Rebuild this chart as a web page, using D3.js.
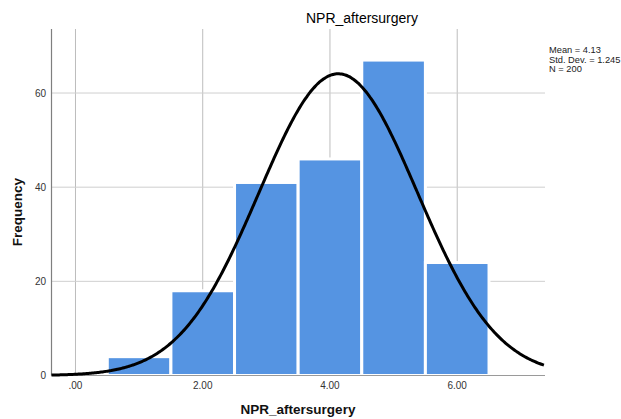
<!DOCTYPE html>
<html>
<head>
<meta charset="utf-8">
<script src="https://cdn.jsdelivr.net/npm/d3@7/dist/d3.min.js"></script>
<style>
  html, body { margin: 0; padding: 0; background: #fff; }
  svg { display: block; font-family: "Liberation Sans", Arial, sans-serif; }
</style>
</head>
<body>
<svg id="chart" width="621" height="419"></svg>
<script>
// Histogram bins (centre value, width 1) and frequencies
const binCentres = [1, 2, 3, 4, 5, 6];
const frequencies = [4, 18, 41, 46, 67, 24];
const xTicks = [0, 2, 4, 6];
const xTickLabels = [".00", "2.00", "4.00", "6.00"];
const yTicks = [0, 20, 40, 60];
const statLines = ["Mean = 4.13", "Std. Dev. = 1.245", "N = 200"];
const mean = 4.13, sd = 1.245, n = 200, binWidth = 1;

const svg = d3.select("#chart");
const plotLeft = 51.5, plotRight = 545, plotTop = 29, plotBottom = 375.5;

const x = d3.scaleLinear().domain([-0.377, 7.38]).range([plotLeft, plotRight]);
const y = d3.scaleLinear().domain([0, 73.6]).range([plotBottom, plotTop]);

// gridlines
svg.append("g").selectAll("line").data(xTicks).join("line")
  .attr("x1", d => x(d)).attr("x2", d => x(d))
  .attr("y1", plotTop).attr("y2", plotBottom)
  .attr("stroke", "#bdbdbd").attr("stroke-width", 1);
svg.append("g").selectAll("line").data(yTicks.filter(d => d > 0)).join("line")
  .attr("x1", plotLeft).attr("x2", plotRight)
  .attr("y1", d => y(d)).attr("y2", d => y(d))
  .attr("stroke", "#cfcfcf").attr("stroke-width", 1);

// bars
svg.append("g").selectAll("rect").data(binCentres).join("rect")
  .attr("x", d => x(d - binWidth / 2))
  .attr("width", x(binWidth) - x(0))
  .attr("y", (d, i) => y(frequencies[i]))
  .attr("height", (d, i) => y(0) - y(frequencies[i]))
  .attr("fill", "#5594e2")
  .attr("stroke", "#ffffff").attr("stroke-width", 3);

// axis lines
svg.append("line").attr("x1", plotLeft).attr("x2", plotLeft).attr("y1", plotTop).attr("y2", plotBottom)
  .attr("stroke", "#7f7f7f").attr("stroke-width", 1.2);
svg.append("line").attr("x1", plotLeft).attr("x2", plotRight).attr("y1", plotBottom).attr("y2", plotBottom)
  .attr("stroke", "#9a9a9a").attr("stroke-width", 1.2);

// normal curve scaled to the histogram counts
const pdf = v => Math.exp(-0.5 * ((v - mean) / sd) ** 2) / (sd * Math.sqrt(2 * Math.PI));
const curvePts = d3.range(-0.377, 7.381, 0.02).map(v => [v, n * binWidth * pdf(v)]);
svg.append("path")
  .attr("d", d3.line().x(d => x(d[0])).y(d => y(d[1])).curve(d3.curveBasis)(curvePts))
  .attr("fill", "none").attr("stroke", "#000").attr("stroke-width", 3);

// tick labels
svg.append("g").selectAll("text").data(xTicks).join("text")
  .attr("x", d => x(d)).attr("y", 388.5)
  .attr("text-anchor", "middle").attr("font-size", 10).attr("fill", "#333")
  .text((d, i) => xTickLabels[i]);
svg.append("g").selectAll("text").data(yTicks).join("text")
  .attr("x", 46).attr("y", d => y(d) + 3.5)
  .attr("text-anchor", "end").attr("font-size", 10).attr("fill", "#333")
  .text(d => d);

// titles
svg.append("text").attr("x", 362).attr("y", 23).attr("text-anchor", "middle")
  .attr("font-size", 14).attr("fill", "#000").text("NPR_aftersurgery");
svg.append("text").attr("x", 298).attr("y", 414).attr("text-anchor", "middle")
  .attr("font-size", 13.5).attr("font-weight", "bold").attr("fill", "#111").text("NPR_aftersurgery");
svg.append("text").attr("transform", "translate(22,212) rotate(-90)").attr("text-anchor", "middle")
  .attr("font-size", 13.5).attr("font-weight", "bold").attr("fill", "#111").text("Frequency");

// summary statistics
svg.append("g").selectAll("text").data(statLines).join("text")
  .attr("x", 549).attr("y", (d, i) => 53 + i * 9.5)
  .attr("font-size", 9.3)
  .attr("fill", "#222").text(d => d);
</script>
</body>
</html>
